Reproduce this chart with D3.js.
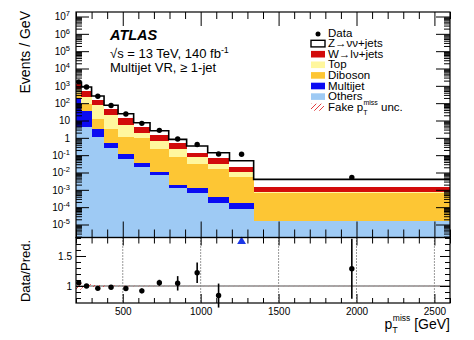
<!DOCTYPE html>
<html><head><meta charset="utf-8">
<script src="https://cdn.jsdelivr.net/npm/d3@7"></script>
<style>
body{margin:0;background:#fff}
svg{display:block}
text{font-family:"Liberation Sans",Arial,Helvetica,sans-serif;fill:#000}
</style>
</head><body>
<svg id="c" width="474" height="340"></svg>
<script>
// ---------------- data (events / GeV) ----------------
const binEdges   = [200,235,300,380,470,570,675,795,910,1045,1185,1340,2600];
const others     = [4.5,4.1,1.11,0.258,0.0575,0.0199,0.00714,0.00122,0.00068,0.00018,0.000075,0.0000158];
const multijet   = [194,31,2.25,0.264,0.064,0.0139,0.0040,0.00067,0.00054,0.000189,0.000091,0];
const diboson    = [214,54,9.3,2.84,0.99,0.904,0.206,0.0794,0.0296,0.0148,0.00553,0.000612];
const topQuark   = [270,138,62.4,18.2,4.6,1.03,0.464,0.136,0.0443,0.0156,0.0054,0.00009];
const wlnu       = [643,256,71,22.6,8.2,2.41,0.77,0.265,0.063,0.0349,0.0104,0.00079];
const zvv        = [280,372,113,31,10.7,3.07,1.12,0.338,0.198,0.0723,0.0263,0.00253];
const dataVals   = [1690,855,249,73.7,23.6,6.85,2.71,0.857,0.41,0.116,0.112,0.0052];
const dataRelErr = [0.02,0.02,0.02,0.02,0.03,0.04,0.05,0.12,0.17,0.2,0.3,0.5];
const fakeRelUnc = [0.06,0.03,0.015,0.008,0.005,0.004,0.003,0.002,0.002,0.002,0.002,0.002];
const xMajorTicks = [500,1000,1500,2000,2500];
const xMinorTicks = [200,300,400,600,700,800,900,1100,1200,1300,1400,1600,1700,1800,1900,2100,2200,2300,2400,2600];
const yMajorExp   = [-5,-4,-3,-2,-1,0,1,2,3,4,5,6,7];
const ratioMajor  = [1,1.5];
const ratioMinor  = [0.8,0.9,1.1,1.2,1.3,1.4,1.6,1.7,1.8];
const legendLabels = ["Data","Z\u2192\u03bd\u03bd+jets","W\u2192l\u03bd+jets","Top","Diboson","Multijet","Others","Fake"];

// ---------------- layout ----------------
const X0=76, X1=450, MT=12, MB=237.5, RB=303;
const svg = d3.select("#c");
const defs = svg.append("defs");
defs.append("clipPath").attr("id","mainClip").append("rect")
  .attr("x",X0).attr("y",MT).attr("width",X1-X0).attr("height",MB-MT);
const hp = defs.append("pattern").attr("id","hatch").attr("patternUnits","userSpaceOnUse")
  .attr("width",5).attr("height",5);
hp.append("path").attr("d","M-1,1 L1,-1 M0,5 L5,0 M4,6 L6,4")
  .attr("stroke","#e0282a").attr("stroke-width",0.9);

const x  = d3.scaleLinear().domain([200,2600]).range([X0,X1]);
const y  = d3.scaleLog().domain([Math.pow(10,-5.75), Math.pow(10,7.26)]).range([MB,MT]);
const yr = d3.scaleLinear().domain([0.717,1.808]).range([RB,MB]);
const yMin = y.domain()[0];

const keys = ["others","multijet","diboson","top","wlnu","zvv"];
const colors = {others:"#9ecaf4", multijet:"#0b0bf2", diboson:"#fdc634", top:"#fff79e", wlnu:"#d20b0b", zvv:"#ffffff"};
const src = {others, multijet, diboson, top:topQuark, wlnu, zvv};
const rows = binEdges.slice(0,-1).map((lo,i)=>{
  const r = {i, lo, hi:binEdges[i+1]};
  keys.forEach(k=> r[k]=src[k][i]);
  return r;
});
const series = d3.stack().keys(keys)(rows);
const totals = rows.map(r=>d3.sum(keys,k=>r[k]));

// ---------------- main panel ----------------
const main = svg.append("g").attr("clip-path","url(#mainClip)");
series.forEach(s=>{
  main.append("g").selectAll("rect").data(s.filter(d=>d[1]>d[0])).join("rect")
    .attr("x",d=>x(d.data.lo)).attr("width",d=>x(d.data.hi)-x(d.data.lo))
    .attr("y",d=>y(d[1])).attr("height",d=>y(Math.max(d[0],yMin))-y(d[1]))
    .attr("fill",colors[s.key]).attr("shape-rendering","crispEdges");
});
// fake unc hatch on total
main.append("g").selectAll("rect").data(rows).join("rect")
  .attr("x",d=>x(d.lo)).attr("width",d=>x(d.hi)-x(d.lo))
  .attr("y",d=>y(totals[d.i]*(1+fakeRelUnc[d.i])))
  .attr("height",d=>y(totals[d.i]*(1-fakeRelUnc[d.i]))-y(totals[d.i]*(1+fakeRelUnc[d.i])))
  .attr("fill","url(#hatch)");
// total step outline
const stepPts = binEdges.map((e,i)=>[e, totals[Math.min(i,totals.length-1)]]);
main.append("path").datum(stepPts)
  .attr("d",d3.line().x(d=>x(d[0])).y(d=>y(d[1])).curve(d3.curveStepAfter))
  .attr("fill","none").attr("stroke","#000").attr("stroke-width",1.6);
// data points
svg.append("g").selectAll("circle").data(rows).join("circle")
  .attr("cx",d=>x((d.lo+d.hi)/2)).attr("cy",d=>y(dataVals[d.i])).attr("r",2.7).attr("fill","#000");

// main axes
function styleAxis(g){ g.select(".domain").remove(); g.selectAll(".tick line").attr("stroke","#000").attr("stroke-width",1); }
const yMajor = yMajorExp.map(e=>Math.pow(10,e));
const yMinor = [];
for(let e=-6;e<=7;e++) for(let k=2;k<=9;k++){ const v=k*Math.pow(10,e); if(v>yMin && v<y.domain()[1]) yMinor.push(v); }

const yl = svg.append("g").attr("transform",`translate(${X0},0)`)
  .call(d3.axisLeft(y).tickValues(yMajor).tickSize(-13).tickPadding(6));
styleAxis(yl);
yl.selectAll(".tick text").each(function(d){
  const t=d3.select(this); const e=Math.round(Math.log10(d));
  t.text(null).attr("font-size",10).attr("font-family","Liberation Sans, Arial, sans-serif");
  if(e===0){ t.text("1"); }
  else if(e===1){ t.text("10"); }
  else { t.append("tspan").text("10"); t.append("tspan").attr("font-size",7.5).attr("dy",-4).text(e); }
});
styleAxis(svg.append("g").attr("transform",`translate(${X0},0)`)
  .call(d3.axisLeft(y).tickValues(yMinor).tickSize(-6).tickFormat(()=>"")));
styleAxis(svg.append("g").attr("transform",`translate(${X1},0)`)
  .call(d3.axisRight(y).tickValues(yMajor).tickSize(-14).tickFormat(()=>"")));
styleAxis(svg.append("g").attr("transform",`translate(${X1},0)`)
  .call(d3.axisRight(y).tickValues(yMinor).tickSize(-6).tickFormat(()=>"")));
styleAxis(svg.append("g").attr("transform",`translate(0,${MB})`)
  .call(d3.axisBottom(x).tickValues(xMajorTicks).tickSize(-16).tickFormat(()=>"")));
styleAxis(svg.append("g").attr("transform",`translate(0,${MB})`)
  .call(d3.axisBottom(x).tickValues(xMinorTicks).tickSize(-8).tickFormat(()=>"")));
styleAxis(svg.append("g").attr("transform",`translate(0,${MT})`)
  .call(d3.axisTop(x).tickValues(xMajorTicks).tickSize(-14).tickFormat(()=>"")));
styleAxis(svg.append("g").attr("transform",`translate(0,${MT})`)
  .call(d3.axisTop(x).tickValues(xMinorTicks).tickSize(-7).tickFormat(()=>"")));

// ---------------- ratio panel ----------------
const rg = svg.append("g");
xMajorTicks.forEach(v=>{
  rg.append("line").attr("x1",x(v)).attr("x2",x(v)).attr("y1",MB).attr("y2",RB)
    .attr("stroke","#333").attr("stroke-width",1).attr("stroke-dasharray","1,2");
});
rg.append("line").attr("x1",X0).attr("x2",X1).attr("y1",yr(1)).attr("y2",yr(1))
  .attr("stroke","#8a8a8a").attr("stroke-width",1.3);
rg.append("g").selectAll("rect").data(rows).join("rect")
  .attr("x",d=>x(d.lo)).attr("width",d=>x(d.hi)-x(d.lo))
  .attr("y",d=>yr(1+fakeRelUnc[d.i])).attr("height",d=>yr(1-fakeRelUnc[d.i])-yr(1+fakeRelUnc[d.i]))
  .attr("fill","url(#hatch)");
const ratio = rows.map(r=>({i:r.i, xc:(r.lo+r.hi)/2, v:dataVals[r.i]/totals[r.i], e:dataRelErr[r.i]}));
const inR = ratio.filter(d=>d.v<=yr.domain()[1]);
const outR = ratio.filter(d=>d.v>yr.domain()[1]);
rg.append("g").selectAll("line").data(inR).join("line")
  .attr("x1",d=>x(d.xc)).attr("x2",d=>x(d.xc))
  .attr("y1",d=>yr(Math.min(d.v+d.e, yr.domain()[1]))).attr("y2",d=>yr(d.v-d.e))
  .attr("stroke","#000").attr("stroke-width",1.6);
rg.append("g").selectAll("circle").data(inR).join("circle")
  .attr("cx",d=>x(d.xc)).attr("cy",d=>yr(d.v)).attr("r",2.7).attr("fill","#000");
rg.append("g").selectAll("path").data(outR).join("path")
  .attr("d",d3.symbol(d3.symbolTriangle,34))
  .attr("transform",d=>`translate(${x(d.xc)},${MB+4})`).attr("fill","#1c38e6");

const ryl = svg.append("g").attr("transform",`translate(${X0},0)`)
  .call(d3.axisLeft(yr).tickValues(ratioMajor).tickSize(-10).tickPadding(4).tickFormat(d=>d===1?"1":d3.format(".1f")(d)));
styleAxis(ryl);
ryl.selectAll(".tick text").attr("font-size",10).attr("font-family","Liberation Sans, Arial, sans-serif");
styleAxis(svg.append("g").attr("transform",`translate(${X0},0)`)
  .call(d3.axisLeft(yr).tickValues(ratioMinor).tickSize(-5).tickFormat(()=>"")));
styleAxis(svg.append("g").attr("transform",`translate(${X1},0)`)
  .call(d3.axisRight(yr).tickValues(ratioMajor).tickSize(-10).tickFormat(()=>"")));
styleAxis(svg.append("g").attr("transform",`translate(${X1},0)`)
  .call(d3.axisRight(yr).tickValues(ratioMinor).tickSize(-5).tickFormat(()=>"")));
const rxb = svg.append("g").attr("transform",`translate(0,${RB})`)
  .call(d3.axisBottom(x).tickValues(xMajorTicks).tickSize(-9).tickPadding(5).tickFormat(d3.format("d")));
styleAxis(rxb);
rxb.selectAll(".tick text").attr("font-size",10).attr("font-family","Liberation Sans, Arial, sans-serif");
styleAxis(svg.append("g").attr("transform",`translate(0,${RB})`)
  .call(d3.axisBottom(x).tickValues(xMinorTicks).tickSize(-5).tickFormat(()=>"")));
styleAxis(svg.append("g").attr("transform",`translate(0,${MB})`)
  .call(d3.axisTop(x).tickValues(xMajorTicks).tickSize(-8).tickFormat(()=>"")));
styleAxis(svg.append("g").attr("transform",`translate(0,${MB})`)
  .call(d3.axisTop(x).tickValues(xMinorTicks).tickSize(-6).tickFormat(()=>"")));

// frames
svg.append("rect").attr("x",X0).attr("y",MT).attr("width",X1-X0).attr("height",MB-MT)
  .attr("fill","none").attr("stroke","#000").attr("stroke-width",1.2);
svg.append("rect").attr("x",X0).attr("y",MB).attr("width",X1-X0).attr("height",RB-MB)
  .attr("fill","none").attr("stroke","#000").attr("stroke-width",1.2);

// ---------------- texts ----------------
svg.append("text").attr("x",110).attr("y",40).attr("font-size",14.5)
  .attr("font-weight","bold").attr("font-style","italic").text("ATLAS");
const t2 = svg.append("text").attr("x",110).attr("y",58).attr("font-size",13);
t2.append("tspan").text("\u221As = 13 TeV, 140 fb");
t2.append("tspan").attr("font-size",9).attr("dy",-5).text("-1");
svg.append("text").attr("x",110).attr("y",72).attr("font-size",13).text("Multijet VR, \u2265 1-jet");

svg.append("text").attr("transform","translate(30,11) rotate(-90)").attr("text-anchor","end")
  .attr("font-size",14).text("Events / GeV");
svg.append("text").attr("transform","translate(30,271) rotate(-90)").attr("text-anchor","middle")
  .attr("font-size",13).text("Data/Pred.");
const xt = svg.append("text").attr("x",450).attr("y",329).attr("text-anchor","end").attr("font-size",14);
xt.append("tspan").text("p");
xt.append("tspan").attr("font-size",9).attr("dy",4).text("T");
xt.append("tspan").attr("font-size",8.5).attr("dx",-5).attr("dy",-12).text("miss");
xt.append("tspan").attr("dy",8).text(" [GeV]");

// ---------------- legend ----------------
const lg = svg.append("g");
const ly0 = 32.5, ldy = 10.6, lbx = 311, ltx = 328;
legendLabels.forEach((lab,i)=>{
  const cy = ly0 + i*ldy;
  if(i===0){
    lg.append("circle").attr("cx",318).attr("cy",cy+1.5).attr("r",2.5).attr("fill","#000");
  } else if(i===7){
    lg.append("rect").attr("x",lbx).attr("y",cy-3).attr("width",13).attr("height",7).attr("fill","url(#hatch)");
  } else {
    const k = keys[6-i];
    lg.append("rect").attr("x",lbx).attr("y",cy-2.8).attr("width",14).attr("height",6.6)
      .attr("fill",colors[k]).attr("stroke",k==="zvv"?"#000":"none").attr("stroke-width",1.4);
  }
  const t = lg.append("text").attr("x",ltx).attr("y",cy+4).attr("font-size",11.5);
  if(i===7){
    t.append("tspan").text("Fake p");
    t.append("tspan").attr("font-size",7).attr("dy",4).text("T");
    t.append("tspan").attr("font-size",7).attr("dx",-4).attr("dy",-10).text("miss");
    t.append("tspan").attr("dy",6).text(" unc.");
  } else t.text(lab);
});
</script>
</body></html>
